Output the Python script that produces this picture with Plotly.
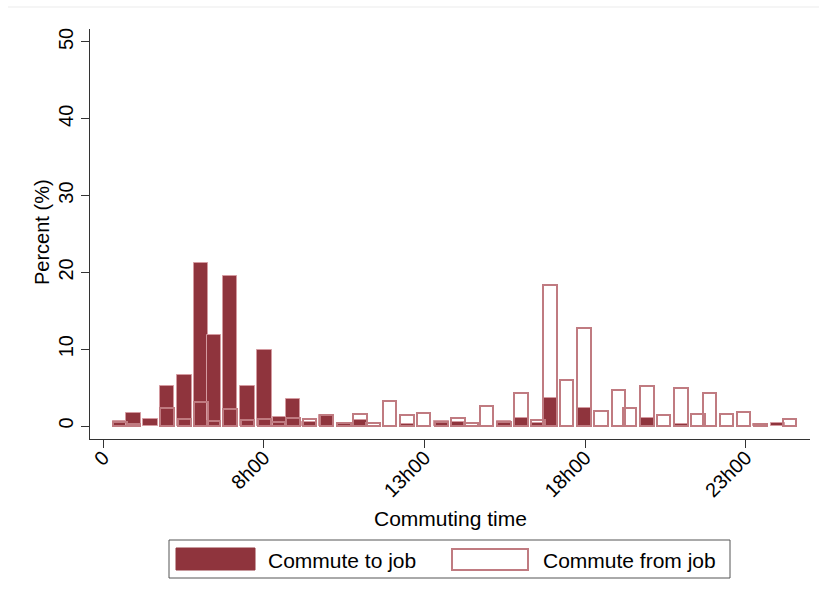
import plotly.graph_objects as go

# Commute start times (hours, bar centres) and share of trips (%)
to_job_time = [3.52, 3.94, 4.47, 4.98, 5.53, 6.04, 6.45, 6.94, 7.49, 8.02, 8.50, 8.90,
               9.42, 9.95, 10.49, 10.99, 12.45, 13.53, 14.04, 15.47, 16.00, 16.53,
               16.90, 17.96, 19.92, 20.99, 23.46, 24.00]
to_job_pct = [0.65, 1.65, 0.87, 5.2, 6.7, 21.2, 11.9, 19.5, 5.2, 9.9, 1.2, 3.5,
              0.5, 1.5, 0.3, 0.8, 0.3, 0.65, 0.5, 0.65, 1.1, 0.4,
              3.7, 2.3, 1.1, 0.2, 0.2, 0.45]

from_job_time = [3.52, 3.94, 4.98, 5.53, 6.04, 6.43, 6.94, 7.49, 8.02, 8.45, 8.90,
                 9.42, 9.95, 10.49, 10.99, 11.40, 11.91, 12.45, 12.97, 13.53, 14.04,
                 14.45, 14.93, 15.47, 16.00, 16.53, 16.90, 17.42, 17.97, 18.50, 19.04,
                 19.38, 19.92, 20.44, 20.99, 21.51, 21.87, 22.40, 22.93, 23.46, 24.36]
from_job_pct = [0.5, 0.3, 2.4, 0.87, 3.1, 0.6, 2.25, 0.74, 0.87, 0.5, 1.1,
                0.95, 1.4, 0.45, 1.55, 0.4, 3.25, 1.5, 1.75, 0.5, 1.1,
                0.45, 2.6, 0.5, 4.35, 0.8, 18.4, 5.95, 12.8, 1.9, 4.65,
                2.4, 5.15, 1.4, 4.9, 1.6, 4.35, 1.6, 1.8, 0.2, 0.95]

x_tick_vals = [3, 8, 13, 18, 23]
x_tick_text = ["0", "8h00", "13h00", "18h00", "23h00"]
y_tick_vals = [0, 10, 20, 30, 40, 50]

FILL = "#8f343d"
FILL_EDGE = "#d49aa0"
OUTLINE = "#c07b81"
FONT = "Liberation Sans, Arial, sans-serif"

W, H = 819, 602
ML, MR, MT, MB = 90, 9, 29, 163
PW, PH = W - ML - MR, H - MT - MB


def px(x):
    return (x - ML) / PW


def py(y):
    return (H - MB - y) / PH


fig = go.Figure()
fig.add_trace(go.Bar(
    x=to_job_time, y=to_job_pct, width=0.45, name="Commute to job",
    marker=dict(color=FILL, line=dict(color=FILL_EDGE, width=1)),
    showlegend=False,
))
fig.add_trace(go.Bar(
    x=from_job_time, y=from_job_pct, width=0.43, name="Commute from job",
    marker=dict(color="rgba(0,0,0,0)", line=dict(color=OUTLINE, width=2)),
    showlegend=False,
))

shapes = [
    # thin frame line across the top of the page
    dict(type="line", xref="paper", yref="paper", x0=px(8), x1=px(819), y0=py(7), y1=py(7),
         line=dict(color="#ebebeb", width=1)),
    # legend box and swatches
    dict(type="rect", xref="paper", yref="paper", x0=px(169), x1=px(730), y0=py(578), y1=py(540),
         line=dict(color="#555555", width=1), fillcolor="white"),
    dict(type="rect", xref="paper", yref="paper", x0=px(176), x1=px(255), y0=py(570), y1=py(548),
         line=dict(color=FILL, width=1), fillcolor=FILL),
    dict(type="rect", xref="paper", yref="paper", x0=px(452), x1=px(528), y0=py(570), y1=py(549),
         line=dict(color=OUTLINE, width=2), fillcolor="white"),
]

annotations = [
    dict(text="Commuting time", xref="paper", yref="paper", x=px(450), y=py(518),
         xanchor="center", yanchor="middle", showarrow=False,
         font=dict(family=FONT, size=21, color="black")),
    dict(text="Percent (%)", xref="paper", yref="paper", x=px(42), y=py(232),
         xanchor="center", yanchor="middle", textangle=-90, showarrow=False,
         font=dict(family=FONT, size=20, color="black")),
    dict(text="Commute to job", xref="paper", yref="paper", x=px(266), y=py(560),
         xanchor="left", yanchor="middle", showarrow=False,
         font=dict(family=FONT, size=21, color="black")),
    dict(text="Commute from job", xref="paper", yref="paper", x=px(541), y=py(560),
         xanchor="left", yanchor="middle", showarrow=False,
         font=dict(family=FONT, size=21, color="black")),
]

fig.update_layout(
    width=W, height=H,
    margin=dict(l=ML, r=MR, t=MT, b=MB, pad=0),
    paper_bgcolor="white", plot_bgcolor="white",
    barmode="overlay", bargap=0,
    font=dict(family=FONT, size=20, color="black"),
    shapes=shapes, annotations=annotations,
    xaxis=dict(
        range=[2.586, 25.0], tickvals=x_tick_vals, ticktext=x_tick_text,
        tickangle=-45, ticks="outside", ticklen=8, tickcolor="#333333",
        ticklabelstandoff=-10,
        showline=True, linecolor="#333333", linewidth=1,
        showgrid=False, zeroline=False,
        tickfont=dict(family=FONT, size=20, color="black"),
    ),
    yaxis=dict(
        range=[-1.69, 51.69], tickvals=y_tick_vals,
        tickangle=-90, ticks="outside", ticklen=8, tickcolor="#333333",
        showline=True, linecolor="#333333", linewidth=1,
        showgrid=False, zeroline=False,
        tickfont=dict(family=FONT, size=20, color="black"),
    ),
)

fig.write_html("out.html")
